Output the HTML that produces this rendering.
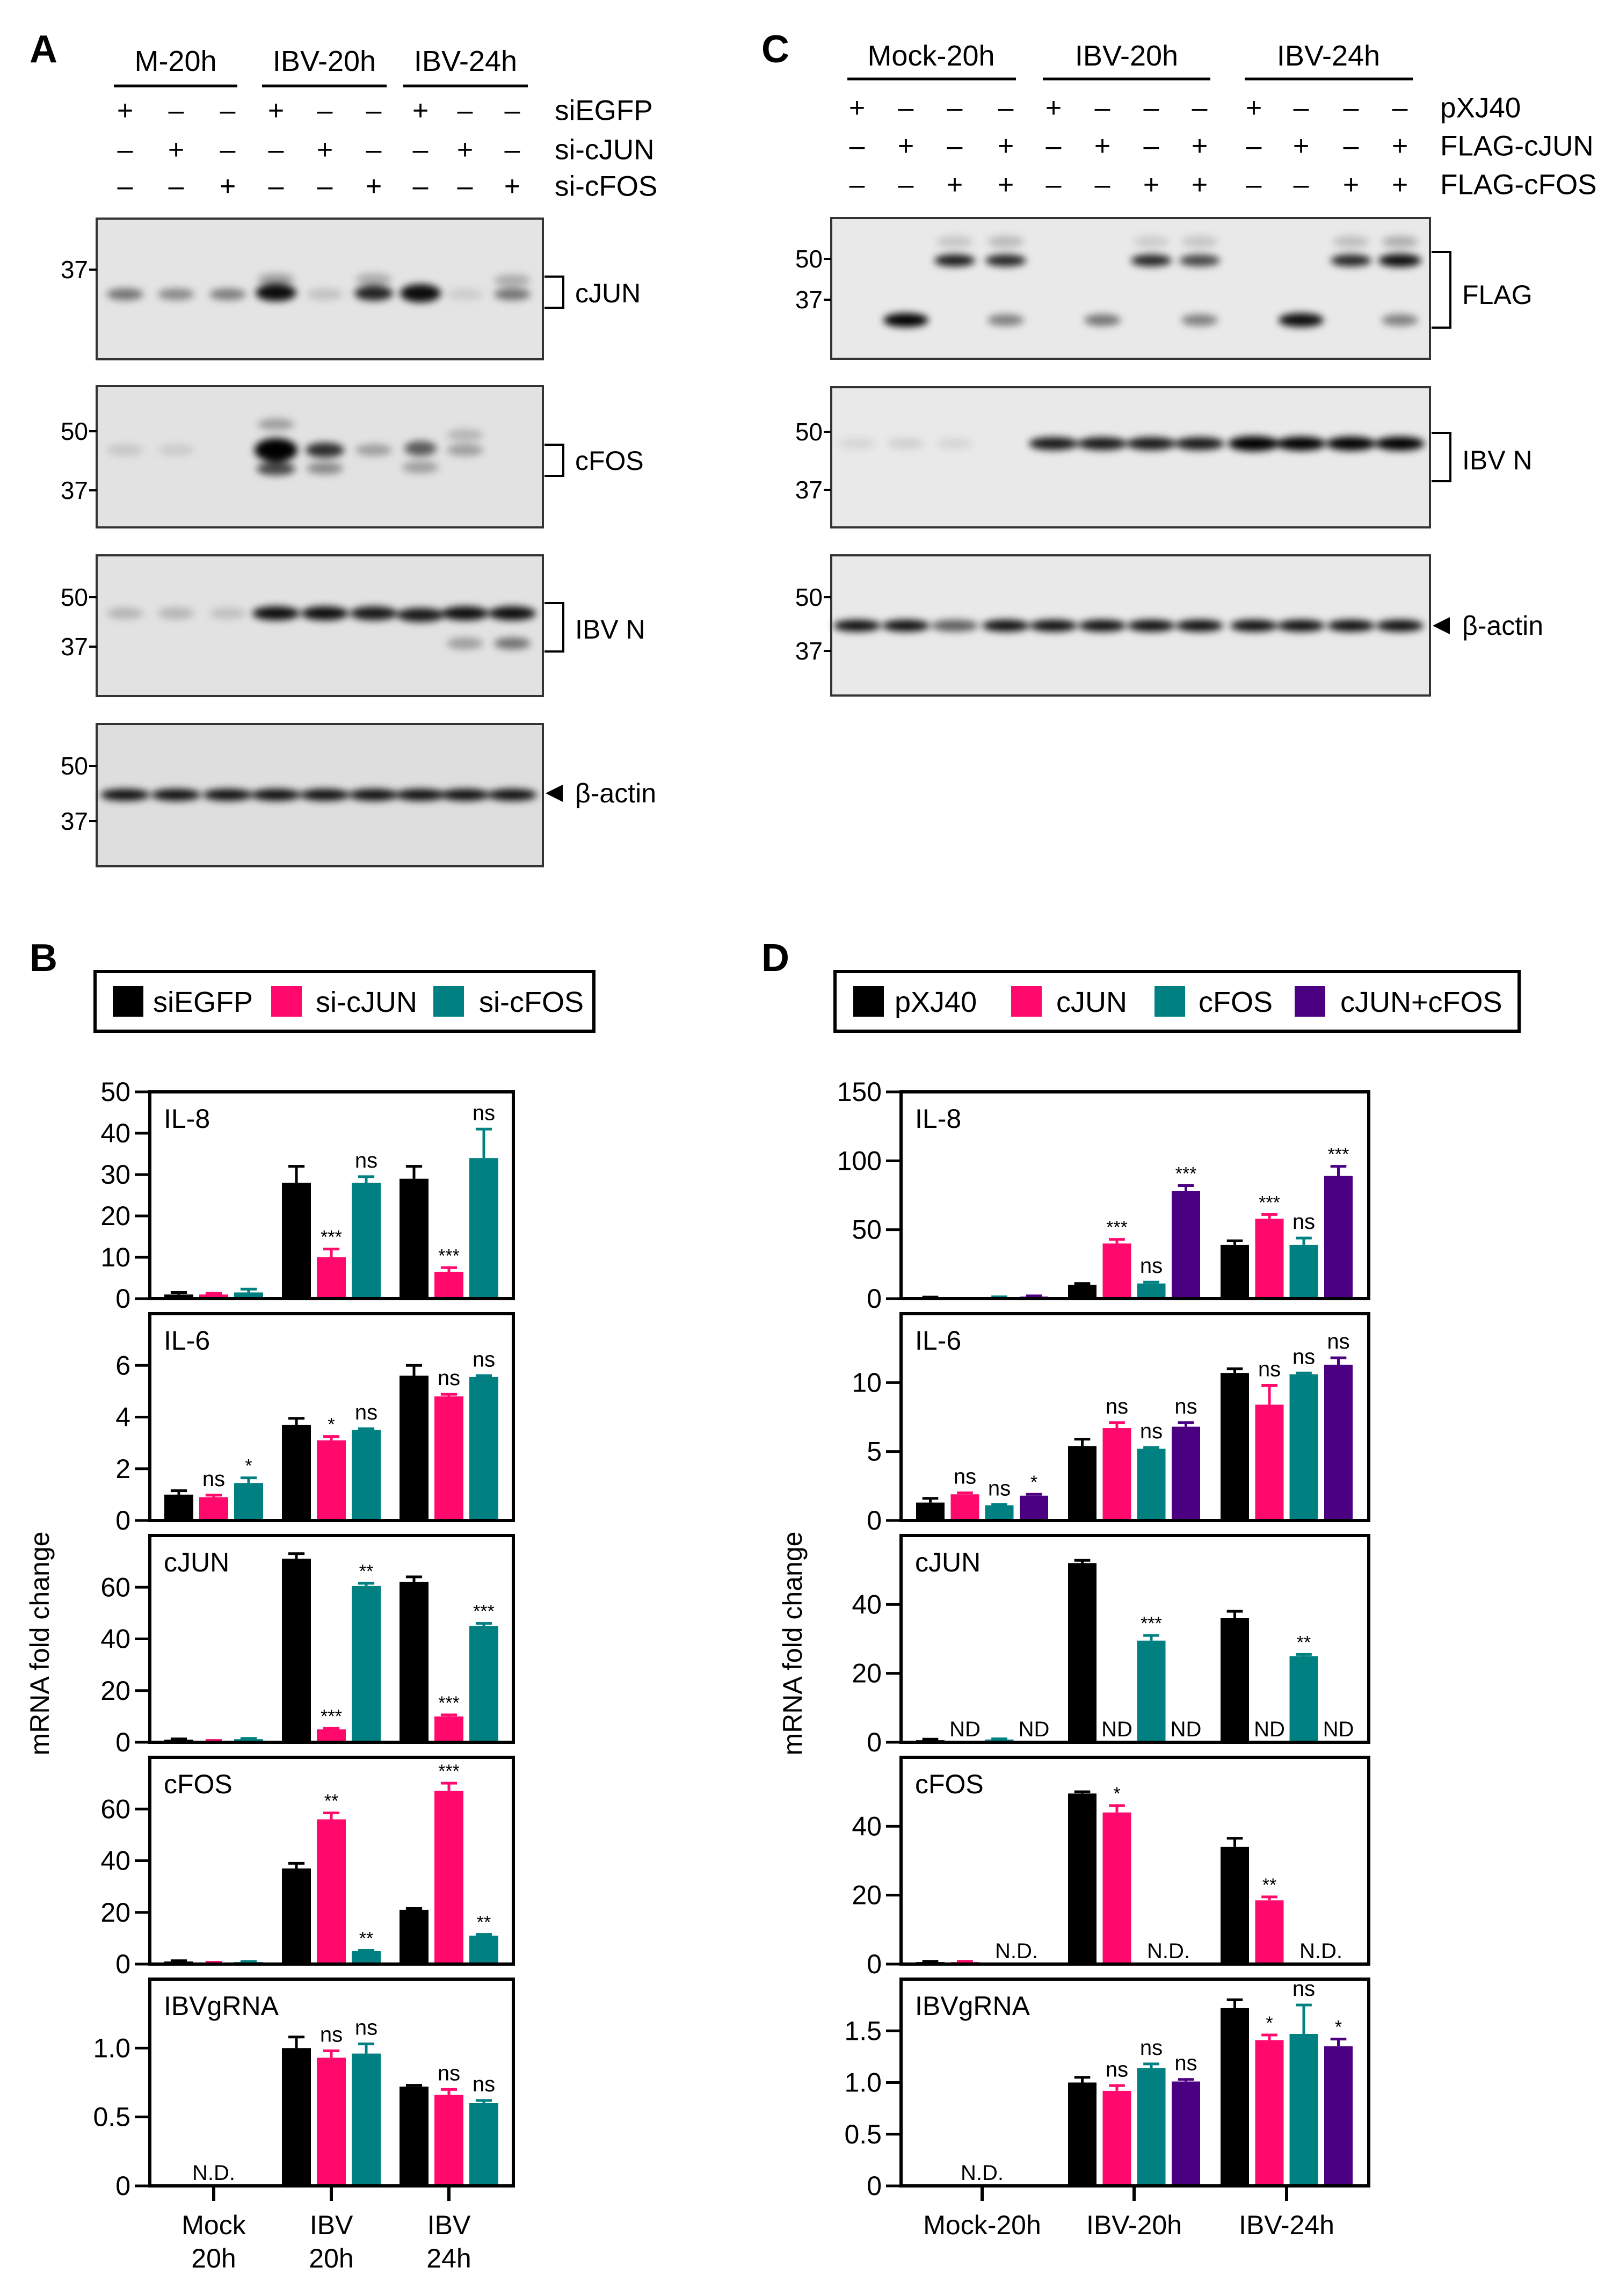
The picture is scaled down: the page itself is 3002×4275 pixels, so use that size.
<!DOCTYPE html>
<html><head><meta charset="utf-8">
<style>
html,body{margin:0;padding:0;background:#fff;}
svg{display:block;font-family:"Liberation Sans",Arial,sans-serif;}
</style></head>
<body>
<svg id="fig" xmlns="http://www.w3.org/2000/svg" width="3002" height="4275" viewBox="0 0 3002 4275">
<defs>
<filter id="blur" x="-50%" y="-200%" width="200%" height="500%"><feGaussianBlur stdDeviation="7"/></filter>
</defs>
<rect width="3002" height="4275" fill="#fff"/>
<g id="root"></g>
</svg>
<script>
// ===== Panel B data (siEGFP, si-cJUN, si-cFOS) across Mock20h, IBV20h, IBV24h =====
const bCategories = ["Mock\n20h","IBV\n20h","IBV\n24h"];
const bSeries = ["siEGFP","si-cJUN","si-cFOS"];
const bIL8Vals = [[1,28,29],[1,10,6.5],[1.5,28,34]];
const bIL8Err  = [[0.5,4,3],[0.3,2,1],[0.8,1.5,7]];
const bIL8Sig  = [["","",""],["","***","***"],["","ns","ns"]];
const bIL8Ticks = [0,10,20,30,40,50];
const bIL6Vals = [[1.0,3.7,5.6],[0.9,3.1,4.8],[1.45,3.5,5.55]];
const bIL6Err  = [[0.15,0.25,0.4],[0.08,0.15,0.08],[0.2,0.05,0.05]];
const bIL6Sig  = [["","",""],["ns","*","ns"],["*","ns","ns"]];
const bIL6Ticks = [0,2,4,6];
const bJunVals = [[1,71,62],[0.5,5,10],[1.2,60.5,45]];
const bJunErr  = [[0.3,2,2],[0.2,0.4,0.6],[0.3,1,1]];
const bJunSig  = [["","",""],["","***","***"],["","**","***"]];
const bJunTicks = [0,20,40,60];
const bFosVals = [[1,37,21],[0.5,56,67],[0.8,5,11]];
const bFosErr  = [[0.3,2,0.5],[0.2,2.5,3],[0.2,0.3,0.5]];
const bFosSig  = [["","",""],["","**","***"],["","**","**"]];
const bFosTicks = [0,20,40,60];
const bGrnaVals = [[null,1.0,0.72],[null,0.93,0.66],[null,0.96,0.6]];
const bGrnaErr  = [[0,0.08,0.01],[0,0.05,0.04],[0,0.07,0.02]];
const bGrnaSig  = [["","",""],["","ns","ns"],["","ns","ns"]];
const bGrnaTicks = [0,0.5,1.0];
const bGrnaTickLabels = ["0","0.5","1.0"];

// ===== Panel D data (pXJ40, cJUN, cFOS, cJUN+cFOS) =====
const dCategories = ["Mock-20h","IBV-20h","IBV-24h"];
const dSeries = ["pXJ40","cJUN","cFOS","cJUN+cFOS"];
const dIL8Vals = [[0.8,10,39],[0,40,58],[1,11,39],[1.5,78,89]];
const dIL8Err  = [[0.3,1,3],[0,3,3],[0.3,1,5],[0.5,4,7]];
const dIL8Sig  = [["","",""],["","***","***"],["","ns","ns"],["","***","***"]];
const dIL8Ticks = [0,50,100,150];
const dIL6Vals = [[1.3,5.4,10.7],[1.9,6.7,8.4],[1.1,5.2,10.6],[1.8,6.8,11.3]];
const dIL6Err  = [[0.3,0.5,0.3],[0.1,0.4,1.4],[0.05,0.1,0.1],[0.1,0.3,0.5]];
const dIL6Sig  = [["","",""],["ns","ns","ns"],["ns","ns","ns"],["*","ns","ns"]];
const dIL6Ticks = [0,5,10];
const dJunVals = [[0.6,52,36],[null,null,null],[0.8,29.5,25],[null,null,null]];
const dJunErr  = [[0.3,0.8,2],[0,0,0],[0.2,1.5,0.5],[0,0,0]];
const dJunSig  = [["","",""],["ND","ND","ND"],["","***","**"],["ND","ND","ND"]];
const dJunTicks = [0,20,40];
const dFosVals = [[0.6,49.5,34],[0.6,44,18.5],[null,null,null],[null,null,null]];
const dFosErr  = [[0.2,0.5,2.5],[0.2,2,1],[0,0,0],[0,0,0]];
const dFosSig  = [["","",""],["","*","**"],["","",""],["","",""]];
const dFosTicks = [0,20,40];
const dGrnaVals = [[null,1.0,1.72],[null,0.92,1.41],[null,1.14,1.47],[null,1.01,1.35]];
const dGrnaErr  = [[0,0.05,0.08],[0,0.05,0.05],[0,0.04,0.28],[0,0.02,0.07]];
const dGrnaSig  = [["","",""],["","ns","*"],["","ns","ns"],["","ns","*"]];
const dGrnaTicks = [0,0.5,1.0,1.5];
const dGrnaTickLabels = ["0","0.5","1.0","1.5"];

const NS = "http://www.w3.org/2000/svg";
const root = document.getElementById("root");
function mk(tag, attrs, parent){
  const e = document.createElementNS(NS, tag);
  for (const k in attrs) e.setAttribute(k, attrs[k]);
  (parent||root).appendChild(e);
  return e;
}
function txt(x,y,s,size,anchor,parent,weight){
  const t = mk("text",{x:x,y:y,"font-size":size,"text-anchor":anchor||"start","dominant-baseline":"central",fill:"#000","font-weight":weight||"normal"},parent);
  t.textContent = s;
  return t;
}

// ===== Bar chart panel =====
const colorsB = ["#000000","#ff0a6c","#008080"];
const colorsD = ["#000000","#ff0a6c","#008080","#4b0082"];
function panel(cfg){
  const g = mk("g",{});
  
  
  const H = cfg.bottom - cfg.top;
  const yS = v => cfg.bottom - v / cfg.max * H;
  cfg.vals.forEach((ser, si) => {
    ser.forEach((v, gi) => {
      const cx = cfg.centers[gi] + cfg.offsets[si];
      const lab = cfg.sig[si][gi];
      if (v === null){
        if (lab){
          const t = txt(cx, cfg.bottom - 24, lab, 40, "middle", g);
          
          
        }
        return;
      }
      const y = yS(v);
      const bar = mk("rect",{x:cx-cfg.bw/2, y:y, width:cfg.bw, height:cfg.bottom-y, fill:cfg.colors[si]}, g);
      
      
      const e = cfg.err[si][gi];
      const ye = yS(v + e);
      if (e > 0){
        const el = mk("path",{d:`M${cx} ${y} V${ye} M${cx-cfg.bw*0.28} ${ye} H${cx+cfg.bw*0.28}`, stroke:cfg.colors[si], "stroke-width":5, fill:"none"}, g);
        
        
      }
      if (lab){
        const isStar = lab.indexOf("*") >= 0;
        const t = txt(cx, ye - (isStar ? 22 : 30), lab, isStar ? 34 : 40, "middle", g);
        
        
      }
    });
  });
  const fr = mk("rect",{x:cfg.x0, y:cfg.top, width:cfg.x1-cfg.x0, height:H, fill:"none", stroke:"#000", "stroke-width":6}, g);
  
  
  cfg.ticks.forEach((tv, i) => {
    const y = yS(tv);
    const tk = mk("line",{x1:cfg.x0-28, x2:cfg.x0, y1:y, y2:y, stroke:"#000", "stroke-width":5}, g);
    
    
    const lbl = cfg.tickLabels ? cfg.tickLabels[i] : String(tv);
    const t = txt(cfg.x0-36, y, lbl, 50, "end", g);
    
    
  });
  const nm = txt(cfg.x0+26, cfg.top+50, cfg.name, 50, "start", g);
  
  
  if (cfg.extraND){
    cfg.extraND.forEach(n => {
      const t = txt(cfg.centers[n[0]] + n[1], cfg.bottom - 24, n[2], 40, "middle", g);
      
      
    });
  }
  return g;
}

const tops = [2033, 2446, 2859, 3272, 3685];
const PH = 385;
const bCenters = [398, 617, 836];
const dCenters = [1829, 2112, 2396];
const bOff = [-65, 0, 65];
const dOff = [-96.5, -32, 32, 96.5];
const bBase = {x0:279, x1:956, centers:bCenters, offsets:bOff, bw:54, colors:colorsB, series:bSeries};
const dBase = {x0:1678, x1:2549, centers:dCenters, offsets:dOff, bw:53, colors:colorsD, series:dSeries};
const bPanels = [
  {id:"b-il8", name:"IL-8", vals:bIL8Vals, err:bIL8Err, sig:bIL8Sig, ticks:bIL8Ticks, max:50},
  {id:"b-il6", name:"IL-6", vals:bIL6Vals, err:bIL6Err, sig:bIL6Sig, ticks:bIL6Ticks, max:8},
  {id:"b-cjun", name:"cJUN", vals:bJunVals, err:bJunErr, sig:bJunSig, ticks:bJunTicks, max:80},
  {id:"b-cfos", name:"cFOS", vals:bFosVals, err:bFosErr, sig:bFosSig, ticks:bFosTicks, max:80},
  {id:"b-ibvgrna", name:"IBVgRNA", vals:bGrnaVals, err:bGrnaErr, sig:bGrnaSig, ticks:bGrnaTicks, tickLabels:bGrnaTickLabels, max:1.5, extraND:[[0,0,"N.D."]]}
];
const dPanels = [
  {id:"d-il8", name:"IL-8", vals:dIL8Vals, err:dIL8Err, sig:dIL8Sig, ticks:dIL8Ticks, max:150},
  {id:"d-il6", name:"IL-6", vals:dIL6Vals, err:dIL6Err, sig:dIL6Sig, ticks:dIL6Ticks, max:15},
  {id:"d-cjun", name:"cJUN", vals:dJunVals, err:dJunErr, sig:dJunSig, ticks:dJunTicks, max:60},
  {id:"d-cfos", name:"cFOS", vals:dFosVals, err:dFosErr, sig:dFosSig, ticks:dFosTicks, max:60, extraND:[[0,64,"N.D."],[1,64,"N.D."],[2,64,"N.D."]]},
  {id:"d-ibvgrna", name:"IBVgRNA", vals:dGrnaVals, err:dGrnaErr, sig:dGrnaSig, ticks:dGrnaTicks, tickLabels:dGrnaTickLabels, max:2.0, extraND:[[0,0,"N.D."]]}
];
bPanels.forEach((p,i) => panel(Object.assign({}, bBase, p, {top:tops[i], bottom:tops[i]+PH})));
dPanels.forEach((p,i) => panel(Object.assign({}, dBase, p, {top:tops[i], bottom:tops[i]+PH})));

const xb = tops[4] + PH;
bCategories.forEach((c, i) => {
  const tk = mk("line",{x1:bCenters[i], x2:bCenters[i], y1:xb, y2:xb+28, stroke:"#000", "stroke-width":6});
  
  
  c.split("\n").forEach((ln, j) => {
    const t = txt(bCenters[i], 4143 + j*62, ln, 50, "middle");
    
    
  });
});
dCategories.forEach((c, i) => {
  const tk = mk("line",{x1:dCenters[i], x2:dCenters[i], y1:xb, y2:xb+28, stroke:"#000", "stroke-width":6});
  
  
  const t = txt(dCenters[i], 4143, c, 50, "middle");
  
  
});

[[74,"b-y-axis-title"],[1476,"d-y-axis-title"]].forEach(a => {
  const t = txt(0, 0, "mRNA fold change", 50, "middle");
  t.setAttribute("transform", `translate(${a[0]},3060) rotate(-90)`);
  
  
});

function legend(id, x0, x1, items, colors, sx, tx){
  const g = mk("g",{});
  
  
  const r = mk("rect",{x:x0, y:1809, width:x1-x0, height:111, fill:"#fff", stroke:"#000", "stroke-width":6}, g);
  
  
  items.forEach((s, i) => {
    const sw = mk("rect",{x:sx[i], y:1836, width:57, height:57, fill:colors[i]}, g);
    
    
    const t = txt(tx[i], 1866, s, 54, "start", g);
    
    
  });
}
legend("b-legend", 177, 1106, bSeries, colorsB, [210,505,807], [285,588,892]);
legend("d-legend", 1555, 2829, dSeries, colorsD, [1589,1883,2150,2411], [1666,1967,2232,2496]);

[["A",55,92],["B",55,1784],["C",1418,92],["D",1418,1784]].forEach(p => {
  const t = txt(p[1], p[2], p[0], 72, "start", null, "bold");
  
  
});

// ===== Western blots =====
const aLanes = [233,328,424,514,605,696,783,866,954];
const cLanes = [1596,1687,1778,1873,1962,2053,2144,2234,2335,2423,2516,2607];
function header(groups, lines, rows, lanes, patterns, labelX, per){
  groups.forEach(gr => {
    const t = txt(gr[0], gr[1], gr[2], 54, "middle");
    
    
  });
  lines.forEach(l => {
    const ln = mk("line",{x1:l[0], x2:l[1], y1:l[2], y2:l[2], stroke:"#000", "stroke-width":5});
    
    
  });
  rows.forEach((r, ri) => {
    lanes.forEach((lx, li) => {
      const plus = patterns[ri][li % per] === 1;
      const t = txt(lx, r[0], plus ? "+" : "\u2013", 52, "middle");
      
      
    });
    const t = txt(labelX, r[0], r[1], 53, "start");
    
    
  });
}
header([[327,114,"M-20h"],[604,114,"IBV-20h"],[867,114,"IBV-24h"]],
  [[212,442,160],[488,720,160],[751,983,160]],
  [[206,"siEGFP"],[279,"si-cJUN"],[347,"si-cFOS"]], aLanes,
  [[1,0,0],[0,1,0],[0,0,1]], 1033, 3);
header([[1734,104,"Mock-20h"],[2098,104,"IBV-20h"],[2474,104,"IBV-24h"]],
  [[1578,1892,147],[1942,2254,147],[2318,2631,147]],
  [[201,"pXJ40"],[272,"FLAG-cJUN"],[344,"FLAG-cFOS"]], cLanes,
  [[1,0,0,0],[0,1,0,1],[0,0,1,1]], 2682, 4);

function blot(id, x0, x1, y0, y1, bg, mws, bands, marker){
  const g = mk("g",{});
  
  
  const r = mk("rect",{x:x0, y:y0, width:x1-x0, height:y1-y0, fill:bg}, g);
  
  
  const bg2 = mk("g",{filter:"url(#blur)"}, g);
  bands.forEach(b => {
    const e = mk("ellipse",{cx:b[0], cy:b[1], rx:b[3]||34, ry:b[4]||11, fill:"#000", "fill-opacity":b[2]}, bg2);
    
    
  });
  const fr = mk("rect",{x:x0, y:y0, width:x1-x0, height:y1-y0, fill:"none", stroke:"#333", "stroke-width":4}, g);
  
  
  mws.forEach(m => {
    const tk = mk("line",{x1:x0-14, x2:x0, y1:m[1], y2:m[1], stroke:"#000", "stroke-width":4}, g);
    
    
    const t = txt(x0-16, m[1], m[0], 46, "end", g);
    
    
  });
  if (marker.type === "bracket"){
    const p = mk("path",{d:`M${x1+3} ${marker.y0} H${x1+38} V${marker.y1} H${x1+3}`, stroke:"#000", "stroke-width":4, fill:"none"}, g);
    
    
  } else {
    const p = mk("path",{d:`M${x1+5} ${marker.y} L${x1+37} ${marker.y-16} L${x1+37} ${marker.y+16} Z`, fill:"#000"}, g);
    
    
  }
  const t = txt(x1+60, marker.ly, marker.label, 50, "start", g);
  
  
}
const A = aLanes;
blot("blot-a-cjun",180,1011,407,669,"#e4e4e4",[["37",502]],
  [[A[0],548,.5],[A[1],548,.4],[A[2],548,.45],[A[3],545,.95,38,16],[A[4],548,.15],[A[5],546,.85,36,14],[A[6],546,.95,38,17],[A[7],548,.1],[A[8],548,.5],[A[3],520,.3],[A[5],520,.25],[A[8],522,.25]],
  {type:"bracket",y0:515,y1:573,ly:546,label:"cJUN"});
blot("blot-a-cfos",180,1011,719,982,"#e2e2e2",[["50",803],["37",913]],
  [[A[3],838,1,40,22],[A[3],873,.7,36,12],[A[4],838,.8,36,14],[A[4],872,.4],[A[5],838,.3],[A[6],835,.6,30,14],[A[6],870,.3],[A[7],838,.3],[A[0],838,.12],[A[1],838,.1],[A[7],810,.2],[A[3],790,.3]],
  {type:"bracket",y0:828,y1:886,ly:858,label:"cFOS"});
blot("blot-a-ibvn",180,1011,1034,1296,"#e2e2e2",[["50",1112],["37",1204]],
  [[A[0],1142,.2],[A[1],1142,.2],[A[2],1142,.15],[A[3],1142,.95,44,13],[A[4],1142,.95,44,13],[A[5],1142,.9,44,13],[A[6],1145,.9,44,13],[A[7],1142,.95,44,13],[A[8],1142,.95,44,13],[A[7],1198,.3],[A[8],1198,.5]],
  {type:"bracket",y0:1123,y1:1213,ly:1172,label:"IBV N"});
blot("blot-a-actin",180,1011,1348,1613,"#dedede",[["50",1426],["37",1529]],
  A.map(l => [l,1480,.95,46,11]),
  {type:"arrow",y:1477,ly:1477,label:"\u03b2-actin"});
const C = cLanes;
blot("blot-c-flag",1548,2663,406,668,"#e9e9e9",[["50",482],["37",558]],
  [[C[2],485,.9,38,11],[C[3],485,.85,38,11],[C[6],485,.85,38,11],[C[7],485,.7,38,11],[C[10],485,.85,38,11],[C[11],485,.95,40,12],
   [C[2],450,.15],[C[3],450,.2],[C[6],450,.12],[C[7],450,.15],[C[10],450,.18],[C[11],450,.25],
   [C[1],596,1,42,13],[C[3],596,.45],[C[5],596,.5],[C[7],596,.45],[C[9],596,.95,42,13],[C[11],596,.45]],
  {type:"bracket",y0:469,y1:610,ly:549,label:"FLAG"});
blot("blot-c-ibvn",1548,2663,721,982,"#e9e9e9",[["50",804],["37",912]],
  [[C[0],826,.08],[C[1],826,.1],[C[2],826,.08],[C[4],826,.9,46,12],[C[5],826,.9,46,12],[C[6],826,.9,46,12],[C[7],826,.9,46,12],[C[8],826,1,48,14],[C[9],826,1,46,13],[C[10],826,1,46,13],[C[11],826,1,46,13]],
  {type:"bracket",y0:806,y1:896,ly:857,label:"IBV N"});
blot("blot-c-actin",1548,2663,1034,1295,"#e9e9e9",[["50",1112],["37",1212]],
  C.map((l,i) => [l,1165,i===2?.6:.95,44,11]),
  {type:"arrow",y:1165,ly:1165,label:"\u03b2-actin"});
</script>
</body></html>
